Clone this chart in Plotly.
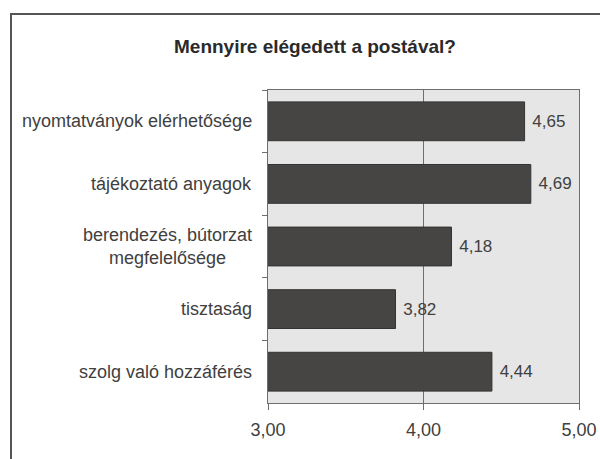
import plotly.graph_objects as go

categories = [
    "nyomtatványok elérhetősége",
    "tájékoztató anyagok",
    "berendezés, bútorzat<br>megfelelősége",
    "tisztaság",
    "szolg való hozzáférés",
]
values = [4.65, 4.69, 4.18, 3.82, 4.44]
x_ticks = [3, 4, 5]
x_ticktext = ["3,00", "4,00", "5,00"]
title_text = "Mennyire elégedett a postával?"

W, H = 600, 459
L, R, T, B = 268, 21, 90, 56
pw, ph = W - L - R, H - T - B

FONT = "Liberation Sans, Arial, sans-serif"
TXT = "#404040"

fig = go.Figure()
fig.add_trace(go.Bar(
    y=categories,
    x=values,
    orientation="h",
    width=0.62,
    marker=dict(color="#474444", line=dict(color="#333333", width=1)),
    text=values,
    texttemplate=" %{x:.2f}",
    textposition="outside",
    textfont=dict(family=FONT, size=17, color=TXT),
    cliponaxis=False,
))

for c in categories:
    fig.add_annotation(
        xref="paper", yref="y", x=0, y=c, text=c,
        xanchor="right", yanchor="middle", xshift=-14,
        showarrow=False, align="center",
        font=dict(family=FONT, size=18, color=TXT),
    )

fig.add_annotation(
    xref="paper", yref="paper", x=(315 - L) / pw, y=1 + (T - 47) / ph,
    text="<b>" + title_text + "</b>", showarrow=False,
    xanchor="center", yanchor="middle",
    font=dict(family=FONT, size=19, color="#2a2a2a"),
)

# outer frame
fig.add_shape(
    type="rect", xref="paper", yref="paper",
    x0=(11 - L) / pw, x1=(605 - L) / pw,
    y0=-(465 - T - ph) / ph, y1=1 + (T - 14) / ph,
    line=dict(color="#555555", width=2), layer="below",
)

fig.update_layout(
    template="none",
    width=W, height=H,
    autosize=False,
    margin=dict(l=L, r=R, t=T, b=B, pad=0, autoexpand=False),
    paper_bgcolor="white",
    plot_bgcolor="#e6e6e6",
    separators=", ",
    showlegend=False,
    font=dict(family=FONT, size=18, color=TXT),
    xaxis=dict(
        range=[3, 5], tickvals=x_ticks, ticktext=x_ticktext,
        automargin=False,
        showgrid=True, gridcolor="#6e6e6e", gridwidth=1,
        showline=True, linecolor="#6e6e6e", linewidth=1, mirror=True,
        ticks="outside", ticklen=6, tickcolor="#6e6e6e",
        ticklabelstandoff=4,
        tickfont=dict(family=FONT, size=18, color=TXT),
        zeroline=False, fixedrange=True,
    ),
    yaxis=dict(
        categoryorder="array", categoryarray=categories, autorange="reversed",
        automargin=False,
        showticklabels=False, tickson="boundaries",
        ticks="outside", ticklen=5, tickcolor="#6e6e6e",
        showline=True, linecolor="#6e6e6e", linewidth=1, mirror=True,
        showgrid=False, zeroline=False, fixedrange=True,
    ),
)

fig.write_html(
    "out.html",
    config={"displayModeBar": False},
    post_script="document.body.style.margin='0';document.body.style.overflow='hidden';",
)
